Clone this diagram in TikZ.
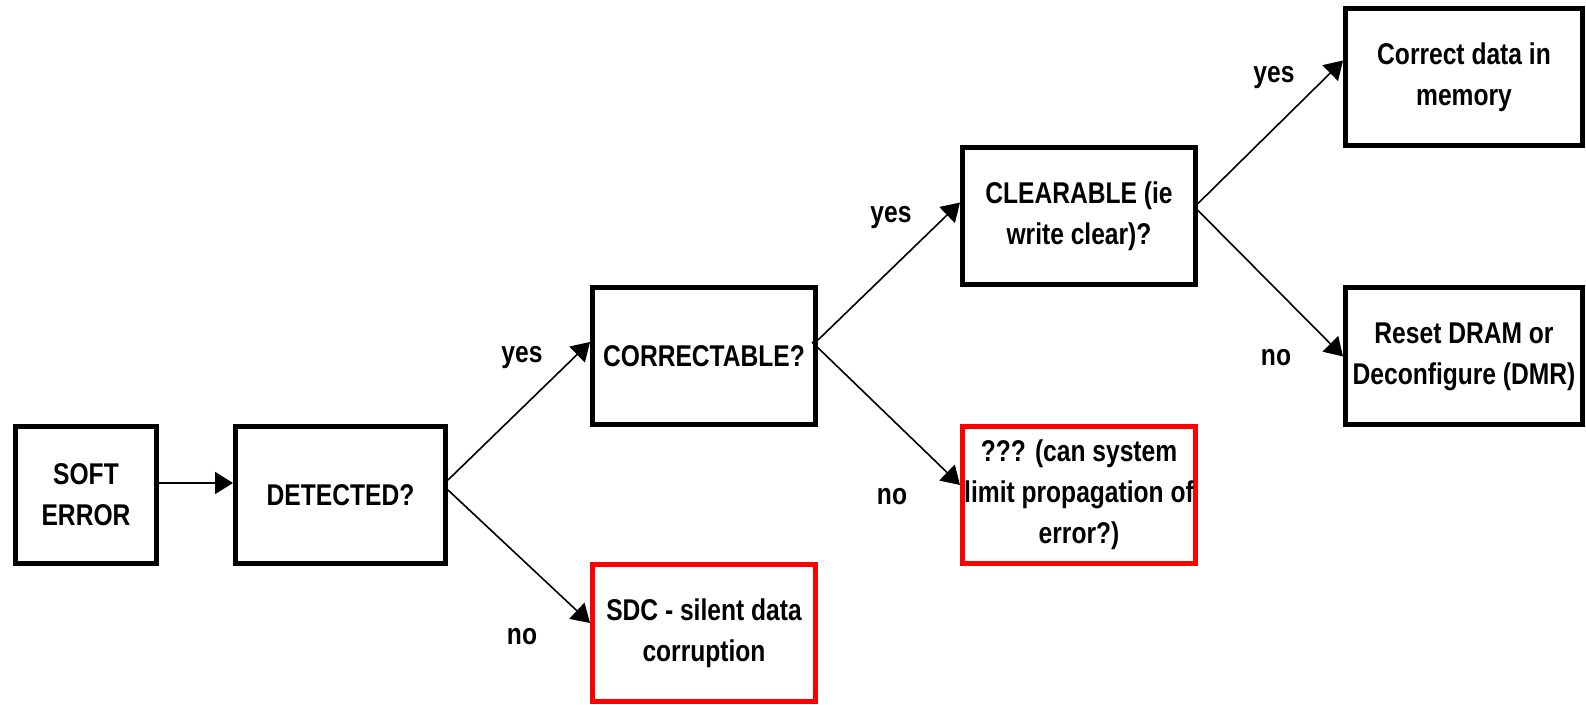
\documentclass[tikz,border=0pt]{standalone}
\usepackage{fontspec}
\setmainfont{Liberation Sans}[FakeStretch=0.82]
\usetikzlibrary{arrows.meta,positioning}
\definecolor{edge}{RGB}{0,0,0}
\definecolor{alarm}{RGB}{255,0,0}
\tikzset{
 box/.style={draw=edge, line width=2.5pt, align=center, inner sep=0pt,
             minimum height=68.5pt, font=\bfseries\fontsize{15}{20.5}\selectfont},
 bad/.style={box, draw=alarm},
 flow/.style={-{Triangle[length=9pt,width=11pt]}, line width=.8pt, draw=edge},
 small/.style={font=\bfseries\fontsize{15}{18}\selectfont, inner sep=0pt}
}

\begin{document}
\begin{tikzpicture}[node distance=71pt]
\useasboundingbox (0,0) rectangle (793pt,-352.5pt);

\node[box, minimum width=70.5pt] (soft) at (43pt,-247.5pt) {SOFT\\ERROR};
\node[box, minimum width=105pt, right=37pt of soft] (detected) {DETECTED?};
\node[box, minimum width=111.5pt, right=of detected, yshift=69.5pt] (correctable) {CORRECTABLE?};
\node[bad, minimum width=111.5pt, right=of detected, yshift=-69pt] (sdc) {SDC - silent data\\corruption};
\node[box, minimum width=116.5pt, right=of correctable, yshift=69.75pt] (clearable) {CLEARABLE (ie\\write clear)?};
\node[bad, minimum width=116.5pt, right=of correctable, yshift=-69.5pt] (limit) {??? (can system\\limit propagation of\\error?)};
\node[box, minimum width=118.5pt, right=72.5pt of clearable, yshift=69.5pt] (memory) {Correct data in\\memory};
\node[box, minimum width=118.5pt, right=72.5pt of clearable, yshift=-70pt] (reset) {Reset DRAM or\\Deconfigure (DMR)};

\draw[flow] ([yshift=6pt]soft.east) -- ([yshift=6pt]detected.west);
\draw[flow] ([yshift=7.5pt]detected.east) -- ([yshift=7pt]correctable.west);
\draw[flow] ([yshift=2.5pt]detected.east) -- ([yshift=5pt]sdc.west);
\draw[flow] ([yshift=8pt]correctable.east) -- ([yshift=7pt]clearable.west);
\draw[flow] ([xshift=-3pt,yshift=7pt]correctable.east) -- ([yshift=5pt]limit.west);
\draw[flow] ([yshift=6.5pt]clearable.east) -- ([yshift=8.5pt]memory.west);
\draw[flow] ([yshift=3pt]clearable.east) -- (reset.west);

\node[small] (yes1) at ([xshift=-34pt,yshift=-1pt]correctable.west) {yes};
\node[small] (no1) at ([xshift=-34pt,yshift=-2pt]sdc.west) {no};
\node[small] (yes2) at ([xshift=-34.5pt,yshift=-.75pt]clearable.west) {yes};
\node[small] (no2) at ([xshift=-34pt,yshift=-1pt]limit.west) {no};
\node[small] (yes3) at ([xshift=-34.5pt]memory.west) {yes};
\node[small] (no3) at ([xshift=-33.5pt,yshift=-.75pt]reset.west) {no};

\end{tikzpicture}
\end{document}
